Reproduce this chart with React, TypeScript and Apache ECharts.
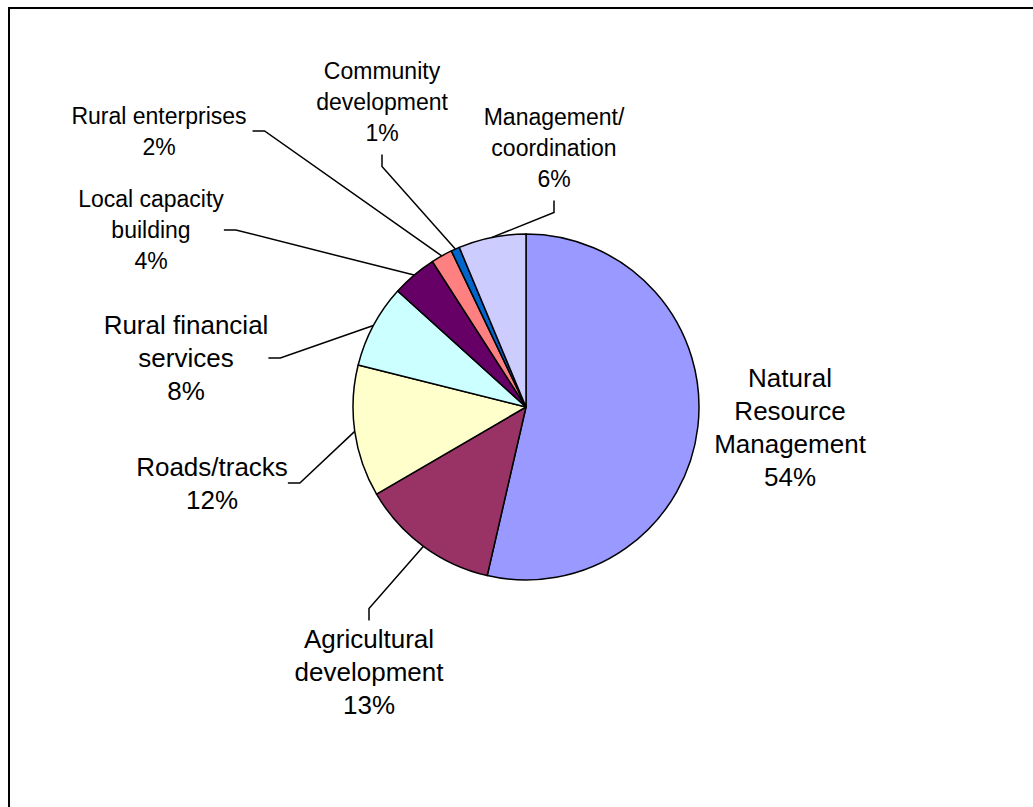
import React, { useEffect, useRef } from "react";
import * as echarts from "echarts";

const categories = [
  "Natural\nResource\nManagement",
  "Agricultural\ndevelopment",
  "Roads/tracks",
  "Rural financial\nservices",
  "Local capacity\nbuilding",
  "Rural enterprises",
  "Community\ndevelopment",
  "Management/\ncoordination",
];
const values = [53.6, 13.0, 12.3, 7.8, 4.2, 2.0, 0.8, 6.3];
const colors = ["#9999FF", "#993366", "#FFFFCC", "#CCFFFF", "#660066", "#FF8080", "#0066CC", "#CCCCFF"];
const bigLabel = [true, true, true, true, false, false, false, false];
const labelPos: number[][] = [
  [790, 427],
  [369, 672],
  [212, 483],
  [186, 358],
  [151, 230],
  [159, 131],
  [382, 102],
  [554, 148],
];
const labelPad = [0, 2, 0, 0, 0, 6, 6, 6];

export default function App() {
  const ref = useRef<HTMLDivElement>(null);
  useEffect(() => {
    const chart = echarts.init(ref.current!, null, { renderer: "svg" });
    chart.setOption({
      animation: false,
      backgroundColor: "#ffffff",
      graphic: [
        {
          type: "rect",
          silent: true,
          shape: { x: 9, y: 8, width: 1300, height: 1100 },
          style: { fill: "none", stroke: "#000", lineWidth: 2 },
        },
      ],
      series: [
        {
          type: "pie",
          center: [526, 407],
          radius: 173,
          startAngle: 90,
          clockwise: true,
          avoidLabelOverlap: false,
          emphasis: { disabled: true },
          itemStyle: { borderColor: "#000", borderWidth: 1.5 },
          label: {
            show: true,
            color: "#000",
            fontFamily: "Liberation Sans, Arial, sans-serif",
            align: "center",
            formatter: (p: any) => `${p.name}\n${Math.round(p.percent)}%`,
          },
          labelLine: {
            show: true,
            length: 10,
            length2: 12,
            smooth: false,
            lineStyle: { color: "#000", width: 1.5 },
          },
          labelLayout: (params: any) => {
            const [x, y] = labelPos[params.dataIndex];
            return { x, y, align: "center", verticalAlign: "middle" };
          },
          data: categories.map((name, i) => ({
            name,
            value: values[i],
            itemStyle: { color: colors[i] },
            label: {
              fontSize: bigLabel[i] ? 26 : 23,
              lineHeight: bigLabel[i] ? 33 : 31,
              padding: labelPad[i],
            },
            labelLine: { show: i !== 0 },
          })),
        },
      ],
    });
    return () => chart.dispose();
  }, []);
  return (
    <div
      ref={ref}
      style={{ position: "fixed", left: 0, top: 0, width: 1033, height: 807 }}
    />
  );
}
